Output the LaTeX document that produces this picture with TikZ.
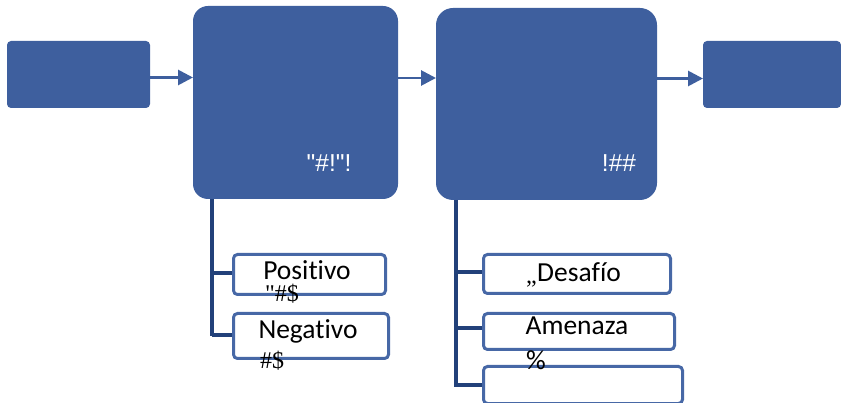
\documentclass[tikz,border=0pt]{standalone}
\usepackage{fontspec}
\setmainfont[Ligatures=NoCommon]{Carlito}
\newfontfamily\markfont{Liberation Serif}
\newfontfamily\whitefont{Liberation Sans}
\usetikzlibrary{arrows.meta}
\definecolor{boxblue}{HTML}{3E5F9E}
\definecolor{edgeblue}{HTML}{4768A6}
\definecolor{navy}{HTML}{22417A}
\tikzset{
  flow/.style={draw=boxblue, line width=2.8pt, -{Triangle[length=15pt,width=15pt]}},
  subbox/.style={draw=edgeblue, line width=3pt, fill=white, rounded corners=4pt},
  trunk/.style={draw=navy, line width=3.5pt},
  lbl/.style={font=\fontsize{27.5}{28}\selectfont, text=black, inner sep=0pt},
  wlbl/.style={font=\whitefont\fontsize{24.5}{25}\selectfont, text=white, inner sep=0pt},
  glyphlbl/.style={font=\markfont\fontsize{24}{24}\selectfont, text=black, inner sep=0pt}
}
\begin{document}
\begin{tikzpicture}[x=1pt,y=-1pt]
\useasboundingbox (0,0) rectangle (841,403);

% main process boxes
\fill[boxblue, rounded corners=4pt] (7,41) rectangle (150,108);
\coordinate (b1e) at (150,77.5);
\fill[boxblue, rounded corners=15pt] (193,6) rectangle (398,199);
\coordinate (b2w) at (193,77.5);
\coordinate (b2e) at (398,78);
\coordinate (b2s) at (212,199);
\fill[boxblue, rounded corners=17pt] (436,8) rectangle (657,200);
\coordinate (b3w) at (436,78);
\coordinate (b3e) at (657,78.5);
\coordinate (b3s) at (456,200);
\fill[boxblue, rounded corners=4pt] (703,41) rectangle (841,108);
\coordinate (b4w) at (703,78.5);

\node[wlbl] (t2) at (329,163) {"\#!"!};
\node[wlbl] (t3) at (619,163) {!\#\#};

% flow arrows
\draw[flow] (b1e) -- (b2w);
\draw[flow] (b2e) -- (b3w);
\draw[flow] (b3e) -- (b4w);

% left branch
\coordinate (l1) at (212,273);
\coordinate (l2) at (212,335);
\draw[trunk] (b2s) -- (212,336.5);
\node[subbox, minimum width=152pt, minimum height=40pt, anchor=north west] (pos) at (232,253) {};
\node[subbox, minimum width=155pt, minimum height=45pt, anchor=north west] (neg) at (232,312) {};
\draw[trunk] (l1) -- (pos.west |- l1);
\draw[trunk] (l2) -- (neg.west |- l2);
\node[lbl] (tpos) at (307,270) {Positivo};
\node[glyphlbl] (mpos) at (282,294) {"\#\$};
\node[lbl] (tneg) at (308,331) {Negativo};
\node[glyphlbl] (mneg) at (272,361) {\#\$};

% right branch
\coordinate (r1) at (456,272);
\coordinate (r2) at (456,328);
\coordinate (r3) at (456,385);
\draw[trunk] (b3s) -- (456,386.5);
\node[subbox, minimum width=187pt, minimum height=39pt, anchor=north west] (des) at (482,253) {};
\node[subbox, minimum width=191pt, minimum height=36pt, anchor=north west] (ame) at (482,312) {};
\node[subbox, minimum width=199pt, minimum height=37pt, anchor=north west] (emp) at (482,365) {};
\draw[trunk] (r1) -- (des.west |- r1);
\draw[trunk] (r2) -- (ame.west |- r2);
\draw[trunk] (r3) -- (emp.west |- r3);
\node[lbl] (tdes) at (579,272) {Desafío};
\node[glyphlbl, anchor=base east] (mdes) at ([yshift=-2pt]tdes.base west) {„};
\node[lbl] (tame) at (577,326) {Amenaza};
\node[lbl] (mame) at (536,360) {\%};
\end{tikzpicture}
\end{document}
